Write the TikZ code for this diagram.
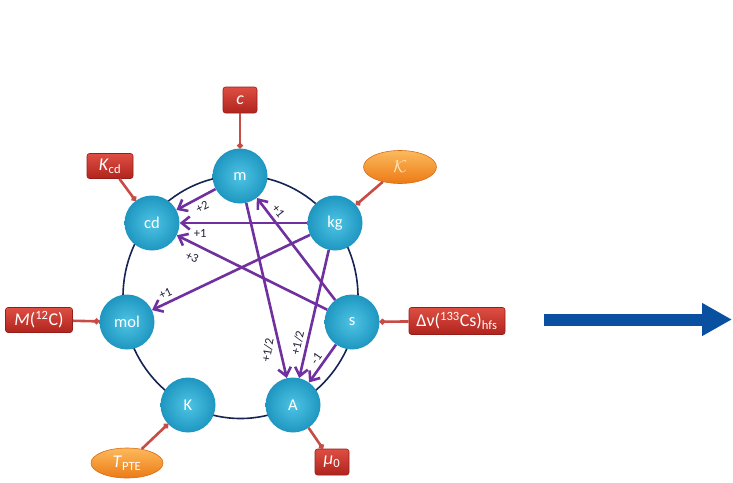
\documentclass[tikz,border=0pt]{standalone}
\usepackage{fontspec}
\setmainfont{Carlito}
\usetikzlibrary{arrows.meta,shapes.geometric}

\definecolor{unitin}{RGB}{78,196,228}
\definecolor{unitout}{RGB}{30,150,192}
\definecolor{ringcol}{RGB}{22,36,84}
\definecolor{linkcol}{RGB}{112,48,160}
\definecolor{labelcol}{RGB}{32,32,56}
\definecolor{redtop}{RGB}{222,78,66}
\definecolor{redbot}{RGB}{176,36,30}
\definecolor{redline}{RGB}{150,30,25}
\definecolor{orangetop}{RGB}{252,186,92}
\definecolor{orangebot}{RGB}{236,122,22}
\definecolor{orangeline}{RGB}{215,108,20}
\definecolor{attachcol}{RGB}{200,76,70}
\definecolor{kcol}{RGB}{255,232,196}
\definecolor{bluearrow}{RGB}{10,80,160}

\begin{document}
\begin{tikzpicture}[x=1pt,y=-1pt,
  unit/.style={circle, minimum size=55pt, inner sep=0pt,
    inner color=unitin, outer color=unitout, text=white,
    font=\fontsize{16.5}{18}\selectfont},
  link/.style={draw=linkcol, line width=2.6pt, line join=round,
    -{Straight Barb[length=8pt,width=13pt]}},
  elabel/.style={text=labelcol, inner sep=1pt,
    font=\fontsize{12.5}{14}\selectfont},
  redbox/.style={rectangle, rounded corners=2.5pt, inner sep=0pt,
    top color=redtop, bottom color=redbot, draw=redline, line width=0.6pt,
    text=white, font=\fontsize{18}{20}\selectfont},
  orangeell/.style={ellipse, inner sep=0pt,
    top color=orangetop, bottom color=orangebot, draw=orangeline, line width=0.6pt,
    font=\fontsize{18}{20}\selectfont},
  attach/.style={draw=attachcol, line width=2.6pt},
  dotend/.style={-{Circle[length=5.5pt]}},
  ring/.style={draw=ringcol, line width=1.6pt},
  bigarrow/.style={draw=bluearrow, line width=12pt,
    -{Triangle[length=30pt,width=31pt]}}
]
\useasboundingbox (0,0) rectangle (733,482);

% the ring that carries the seven base units
\draw[ring] (240.5,297) ellipse [x radius=117.5, y radius=121.5];

% base units
\node[unit] (m)   at (240,176) {m};
\node[unit] (cd)  at (152,223) {cd};
\node[unit] (kg)  at (335,223) {kg};
\node[unit] (s)   at (352,322) {s};
\node[unit] (mol) at (127,322) {mol};
\node[unit] (K)   at (188,405) {K};
\node[unit] (A)   at (293,405) {A};

% defining constants
\node[redbox, minimum width=34pt, minimum height=26pt] (cbox) at (240,100) {\textit{c}};
\node[redbox, minimum width=46pt, minimum height=25pt] (kcd) at (110,166) {\textit{K}\textsubscript{cd}};
\node[orangeell, minimum width=73pt, minimum height=33pt, text=kcol] (kk) at (400,167) {$\mathcal{K}$};
\node[redbox, minimum width=96pt, minimum height=27pt] (dnu) at (457,321) {Δν(\textsuperscript{133}Cs)\textsubscript{hfs}};
\node[redbox, minimum width=67pt, minimum height=25pt] (mc) at (39,320) {\textit{M}(\textsuperscript{12}C)};
\node[orangeell, minimum width=72pt, minimum height=30pt, text=white] (tpte) at (127,463) {\textit{T}\textsubscript{PTE}};
\node[redbox, minimum width=34pt, minimum height=26pt] (mu) at (332,462) {\textit{μ}\textsubscript{0}};

% constants tied to their units
\draw[attach, dotend] (cbox) -- (m);
\draw[attach, dotend] (kcd) -- (cd);
\draw[attach, dotend] (kk) -- (kg);
\draw[attach, dotend] (dnu) -- (s);
\draw[attach, dotend] (mc) -- (mol);
\draw[attach, dotend] (tpte) -- (K);
\draw[attach, dotend] (A) -- (mu);

% dependencies between units, with exponents
\draw[link] (m) -- (cd) node[elabel, pos=0.46, sloped, below=3.5pt] {+2};
\draw[link] (kg) -- (cd) node[elabel, pos=0.84, below=4pt] {+1};
\draw[link] (s) -- (cd) node[elabel, pos=0.86, sloped, below=6.5pt] {+3};
\draw[link] (s) -- (m) node[elabel, pos=0.82, sloped, above=3pt] {+1};
\draw[link] (kg) -- (mol) node[elabel, pos=0.89, sloped, above=3pt] {+1};
\draw[link] (m) -- (A) node[elabel, pos=0.84, xshift=-12.5pt, rotate=80] {+1/2};
\draw[link] (kg) -- (A) node[elabel, pos=0.74, sloped, above=2.5pt] {+1/2};
\draw[link] (s) -- (A) node[elabel, pos=0.49, sloped, above=1.5pt] {-1};

% block arrow to the right
\coordinate (arrowtail) at (544,319.5);
\coordinate (arrowtip) at (732,319.5);
\draw[bigarrow] (arrowtail) -- (arrowtip);
\end{tikzpicture}
\end{document}
